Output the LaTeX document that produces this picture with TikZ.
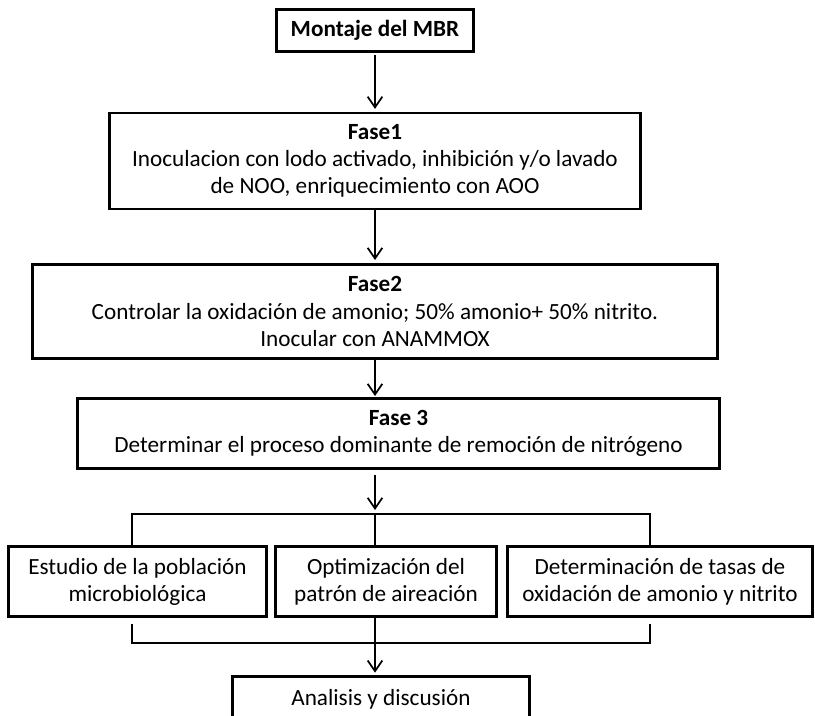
\documentclass[tikz,border=0pt]{standalone}
\usepackage{fontspec}
\setmainfont{Carlito}
\usetikzlibrary{arrows.meta}

\begin{document}
\begin{tikzpicture}[x=0.75pt,y=-0.75pt,
    caja/.style={draw,line width=2.2pt,align=center,inner sep=0pt,
      font=\fontsize{17.4}{20.3}\selectfont},
    flecha/.style={line width=1.3pt,
      -{Straight Barb[length=8pt,width=11pt,line width=1.3pt]}},
    linea/.style={line width=1.3pt}]
  \useasboundingbox (0,0) rectangle (815,716);

  % cajas de las fases
  \node[caja,minimum width=148pt,minimum height=32pt] (montaje) at (375,30.5) {\textbf{Montaje del MBR}};
  \node[caja,minimum width=398pt,minimum height=72pt] (fase1) at (375,161)
    {\textbf{Fase1}\\Inoculacion con lodo activado, inhibición y/o lavado\\de NOO, enriquecimiento con AOO};
  \node[caja,minimum width=514pt,minimum height=71pt] (fase2) at (375,311.5)
    {\textbf{Fase2}\\Controlar la oxidación de amonio; 50\% amonio+ 50\% nitrito.\\Inocular con ANAMMOX};
  \node[caja,minimum width=481pt,minimum height=52pt] (fase3) at (398.5,433.5)
    {\textbf{Fase 3}\\Determinar el proceso dominante de remoción de nitrógeno};

  % estudios en paralelo
  \node[caja,minimum width=193pt,minimum height=53pt] (estudio) at (137.5,581.5)
    {Estudio de la población\\microbiológica};
  \node[caja,minimum width=166pt,minimum height=53pt] (optim) at (386,581.5)
    {Optimización del\\patrón de aireación};
  \node[caja,minimum width=229pt,minimum height=53pt] (tasas) at (660,581.5)
    {Determinación de tasas de\\oxidación de amonio y nitrito};
  \node[caja,minimum width=223pt,minimum height=34pt] (analisis) at (381,699.5) {Analisis y discusión};

  % puntos de reparto y union
  \coordinate (reparto) at (375,514);
  \coordinate (izq) at (132,514);
  \coordinate (der) at (650,514);
  \coordinate (union) at (375,643);
  \coordinate (izqb) at (132,643);
  \coordinate (derb) at (650,643);

  % flechas
  \draw[flecha,shorten <=1pt,shorten >=2pt] (montaje) -- (fase1);
  \draw[flecha,shorten >=2pt] (fase1) -- (fase2);
  \draw[flecha,shorten >=1pt] (fase2.south) -- (fase2.south |- fase3.north);
  \draw[flecha,shorten <=4pt,shorten >=3pt] (fase3.south -| reparto) -- (reparto);
  \draw[linea] (estudio.north -| izq) -- (izq) -- (der) -- (tasas.north -| der);
  \draw[linea] (reparto) -- (optim.north -| reparto);
  \draw[linea,shorten <=4pt,shorten >=4pt] (estudio.south -| izqb) -- (izqb) -- (derb) -- (tasas.south -| derb);
  \draw[flecha,shorten >=2pt] (optim.south -| union) -- (analisis.north -| union);
\end{tikzpicture}
\end{document}
